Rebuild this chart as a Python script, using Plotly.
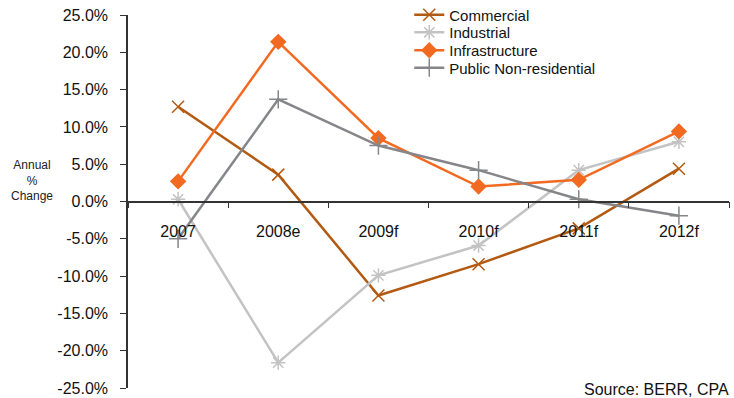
import plotly.graph_objects as go

years = ["2007", "2008e", "2009f", "2010f", "2011f", "2012f"]
commercial = [12.7, 3.6, -12.6, -8.4, -3.6, 4.4]
industrial = [0.3, -21.6, -9.9, -5.9, 4.2, 8.0]
infrastructure = [2.7, 21.4, 8.5, 2.0, 2.9, 9.4]
public_nonres = [-5.0, 13.7, 7.5, 4.2, 0.3, -1.9]

y_ticks = [25, 20, 15, 10, 5, 0, -5, -10, -15, -20, -25]
y_tick_text = [f"{v:.1f}%" for v in y_ticks]

FONT = "Liberation Sans, Arial, sans-serif"

series = [
    ("Commercial", commercial, "#B35A12", "x-thin-open", 12),
    ("Industrial", industrial, "#C3C3C3", "asterisk-open", 12),
    ("Infrastructure", infrastructure, "#F26A21", "diamond", 11),
    ("Public Non-residential", public_nonres, "#85868A", "cross-thin-open", 13),
]

# one legend box per series so the rows sit close together
legend_ids = ["legend", "legend2", "legend3", "legend4"]
legend_rows = [1.0, 0.953, 0.905, 0.858]

fig = go.Figure()
for (name, vals, color, symbol, size), lid in zip(series, legend_ids):
    fig.add_trace(go.Scatter(
        x=years, y=vals, name=name, mode="lines+markers",
        line=dict(color=color, width=2.5),
        marker=dict(symbol=symbol, size=size, color=color,
                    line=dict(color=color, width=1.5)),
        legend=lid,
    ))

legend_style = dict(x=0.468, xanchor="left", yanchor="middle",
                    bgcolor="rgba(0,0,0,0)", font=dict(size=15),
                    itemwidth=30)
legends = {lid: dict(y=ry, **legend_style) for lid, ry in zip(legend_ids, legend_rows)}

annotations = [
    dict(text="Annual<br>%<br>Change", xref="paper", yref="paper",
         x=-0.159, y=(388 - 180.5) / 373, xanchor="center", yanchor="middle",
         showarrow=False, font=dict(size=12, color="#222222")),
    dict(text="Source: BERR, CPA", xref="paper", yref="paper",
         x=1.003, y=-0.003, xanchor="right", yanchor="middle",
         showarrow=False, font=dict(size=16, color="#111111")),
]

fig.update_layout(
    width=734, height=398,
    margin=dict(l=128, r=5, t=15, b=10, autoexpand=False),
    paper_bgcolor="white", plot_bgcolor="white",
    font=dict(family=FONT, size=15, color="#111111"),
    showlegend=True,
    xaxis=dict(
        type="category", range=[-0.5, 5.5],
        anchor="free", position=0.5,
        showline=True, linecolor="#333333", linewidth=1.5,
        ticks="outside", tickson="boundaries", ticklen=6,
        tickcolor="#333333", tickwidth=1.2,
        ticklabelstandoff=16,
        showgrid=False, zeroline=False,
        tickfont=dict(size=16),
    ),
    yaxis=dict(
        range=[-25, 25], tickvals=y_ticks, ticktext=y_tick_text,
        showline=True, linecolor="#333333", linewidth=1.5,
        ticks="outside", ticklen=6, tickcolor="#333333", tickwidth=1.2,
        ticklabelstandoff=9,
        showgrid=False, zeroline=False,
        tickfont=dict(size=16),
    ),
    annotations=annotations,
)
fig.update_layout(**legends)

fig.write_html("out.html")
